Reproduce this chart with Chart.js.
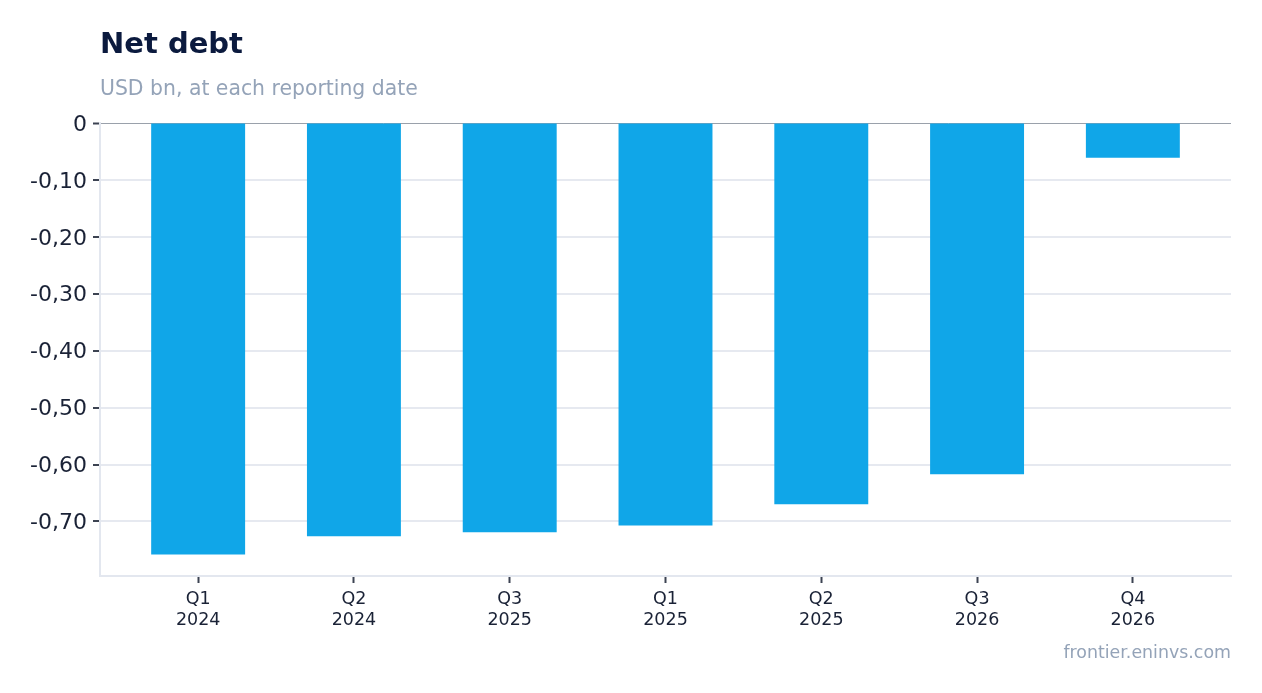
<!DOCTYPE html>
<html>
<head>
<meta charset="utf-8">
<script src="https://cdn.jsdelivr.net/npm/chart.js@4.4.1/dist/chart.umd.min.js"></script>
<style>
  body { margin: 0; background: #fff; font-family: "DejaVu Sans", sans-serif; }
  #wrap { position: relative; width: 1262px; height: 693px; }
  #chart { position: absolute; left: 0; top: 0; }
  .title { position: absolute; left: 100px; top: 26px; font-size: 29px; font-weight: bold; color: #0b1a3e; }
  .subtitle { position: absolute; left: 100px; top: 76px; font-size: 20.4px; color: #94a3b8; }
  .source { position: absolute; right: 31px; top: 642px; font-size: 17.4px; color: #94a3b8; }
</style>
</head>
<body>
<div id="wrap">
  <canvas id="chart" width="1262" height="693"></canvas>
  <div class="title">Net debt</div>
  <div class="subtitle">USD bn, at each reporting date</div>
  <div class="source">frontier.eninvs.com</div>
</div>
<script>
const quarters = ["Q1", "Q2", "Q3", "Q1", "Q2", "Q3", "Q4"];
const years = ["2024", "2024", "2025", "2025", "2025", "2026", "2026"];
const netDebt = [-0.758, -0.726, -0.719, -0.707, -0.670, -0.617, -0.061];

document.addEventListener("DOMContentLoaded", () => {
  const points = netDebt.map((v, i) => ({ x: i, y: v }));
  const lowest = Math.min(...netDebt) * 1.05;
  // a little extra room either side of the outer bars
  const edge = 0.63;

  new Chart(document.getElementById("chart"), {
    type: "bar",
    data: {
      datasets: [
        {
          data: points,
          backgroundColor: "#10a6e8",
          barPercentage: 0.603,
          categoryPercentage: 1
        }
      ]
    },
    options: {
      responsive: false,
      animation: false,
      layout: {
        padding: { top: 123, right: 31, left: 0, bottom: 0 }
      },
      plugins: {
        legend: { display: false },
        tooltip: { enabled: false }
      },
      scales: {
        x: {
          type: "linear",
          offset: false,
          min: -edge,
          max: netDebt.length - 1 + edge,
          afterFit: (scale) => { scale.height = 117; },
          grid: {
            offset: false,
            drawOnChartArea: false,
            tickLength: 7,
            tickColor: "#3c4352",
            tickWidth: 2
          },
          border: { color: "#e3e7ef", width: 2 },
          ticks: {
            stepSize: 1,
            includeBounds: false,
            color: "#1a2236",
            padding: 6,
            font: { family: "DejaVu Sans", size: 17.5, lineHeight: 1.2 },
            callback: (v) => {
              const i = Math.round(v);
              return quarters[i] ? [quarters[i], years[i]] : "";
            }
          }
        },
        y: {
          min: lowest,
          max: 0,
          afterFit: (scale) => { scale.width = 100; },
          grid: {
            color: (ctx) => (ctx.tick && ctx.tick.value === 0 ? "#9aa1ab" : "#e6e9f0"),
            lineWidth: (ctx) => (ctx.tick && ctx.tick.value === 0 ? 1 : 2),
            tickLength: 7,
            tickColor: "#3c4352",
            tickWidth: 2
          },
          border: { color: "#e3e7ef", width: 2 },
          ticks: {
            stepSize: 0.1,
            includeBounds: false,
            color: "#1a2236",
            padding: 6,
            labelOffset: 2,
            font: { family: "DejaVu Sans", size: 22 },
            callback: (v) => (Math.abs(v) < 1e-9 ? "0" : v.toFixed(2).replace(".", ","))
          }
        }
      }
    }
  });
});
</script>
</body>
</html>
